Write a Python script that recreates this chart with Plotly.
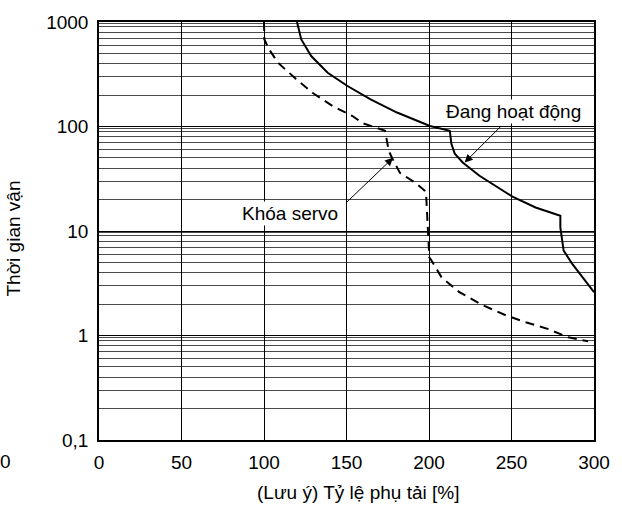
import math
import plotly.graph_objects as go

# Overload characteristic: time vs. load ratio
load_running = [120.0, 122.6, 128.6, 138.6, 150.6, 164.6, 180.6, 200.6, 212.6, 213.6,
                215.6, 220.6, 230.6, 250.6, 264.6, 279.6, 279.6, 281.6, 286.6, 294.6, 300.0]
time_running = [1000, 681, 472, 327, 244, 182, 136, 101, 91, 68,
                55, 45, 33.8, 21.3, 16.8, 14.0, 10.8, 6.5, 4.9, 3.4, 2.6]

load_servo = [100.0, 100.2, 102.6, 108.6, 119.4, 129.6, 141.6, 153.6, 159.6, 168.6, 173.4,
              175.6, 177.6, 182.4, 192.6, 197.4, 198.2, 200.2, 201.6, 207.6, 218.4,
              232.8, 246.6, 258.6, 272.4, 284.4, 296.4]
time_servo = [1000, 685, 562, 405, 285, 209, 157, 126, 108, 97, 91,
              58.5, 50, 36, 28.3, 24.3, 23.2, 5.6, 5.2, 3.6, 2.6,
              1.94, 1.56, 1.34, 1.15, 0.96, 0.88]

x_ticks = [0, 50, 100, 150, 200, 250, 300]
x_tick_labels = ["0", "50", "100", "150", "200", "250", "300"]
y_ticks = [0.1, 1, 10, 100, 1000]
y_tick_labels = ["0,1", "1", "10", "100", "1000"]
y_minor = [m * d for d in (0.1, 1, 10, 100) for m in (2, 3, 4, 5, 6, 7, 8, 9, 9.6)]

FONT = "Liberation Sans, Arial, sans-serif"

fig = go.Figure()
fig.add_trace(go.Scatter(x=load_running, y=time_running, mode="lines",
                         line=dict(color="black", width=2), showlegend=False))
fig.add_trace(go.Scatter(x=load_servo, y=time_servo, mode="lines",
                         line=dict(color="black", width=2, dash="9px,6px"), showlegend=False))

W, H = 622, 506
L, R, T, B = 99, 22, 21, 66
pw, ph = W - L - R, H - T - B


def px(xp, yp):
    return (xp - L) / pw, (H - B - yp) / ph


def label(text, xp, yp, bg=None, angle=0):
    xx, yy = px(xp, yp)
    d = dict(text=text, x=xx, y=yy, xref="paper", yref="paper",
             xanchor="center", yanchor="middle", showarrow=False, textangle=angle,
             font=dict(size=19, color="black", family=FONT))
    if bg:
        d.update(bgcolor=bg, borderpad=1)
    return d


def arrow(x, t, dx, dy):
    # pointer from a pixel offset onto the curve point (x, t); log axis needs log10(t)
    return dict(text="", x=x, y=math.log10(t), xref="x", yref="y", ax=dx, ay=dy,
                showarrow=True, arrowhead=2, arrowsize=1.6, arrowwidth=1,
                arrowcolor="black")


annotations = [
    label("Đang hoạt động", 519, 111, bg="white"),
    label("Khóa servo", 292, 213, bg="white"),
    arrow(221.6, 45.2, 38, -38),
    arrow(178.2, 50.1, -48, 46),
    label("(Lưu ý) Tỷ lệ phụ tải [%]", 361, 493),
    label("Thời gian vận", 12, 238, angle=-90),
    label("0", 4, 462),
]

fig.update_layout(
    width=W, height=H,
    margin=dict(l=L, r=R, t=T, b=B),
    paper_bgcolor="white", plot_bgcolor="white",
    font=dict(family=FONT, size=19, color="black"),
    annotations=annotations,
    xaxis=dict(range=[0, 300], tickvals=x_ticks, ticktext=x_tick_labels,
               showgrid=True, gridcolor="black", gridwidth=1,
               showline=True, linecolor="black", linewidth=1.5, mirror=True,
               zeroline=False, ticks="", ticklabelstandoff=4,
               tickfont=dict(size=19, color="black", family=FONT)),
    yaxis=dict(type="log", range=[-1, 3], tickvals=y_ticks, ticktext=y_tick_labels,
               showgrid=True, gridcolor="black", gridwidth=1,
               minor=dict(tickvals=y_minor, showgrid=True, gridcolor="#4a4a4a", gridwidth=1),
               showline=True, linecolor="black", linewidth=1.5, mirror=True,
               zeroline=False, ticks="", ticklabelstandoff=5,
               tickfont=dict(size=19, color="black", family=FONT)),
)

fig.write_html("out.html")
